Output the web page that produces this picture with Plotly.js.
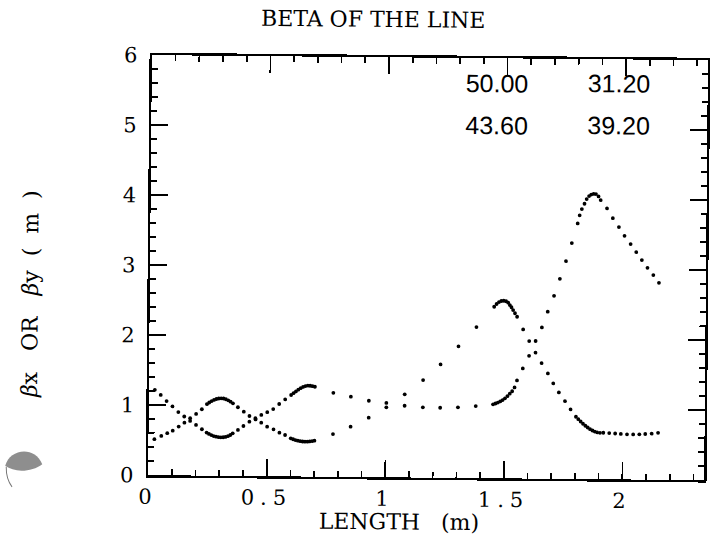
<!DOCTYPE html>
<html>
<head>
<meta charset="utf-8">
<script src="https://cdn.plot.ly/plotly-3.0.1.min.js"></script>
<style>
  html, body { margin: 0; padding: 0; background: #fff; }
  #beta { width: 712px; height: 542px; transform: rotate(0.52deg); transform-origin: 356px 271px; }
  #beta .xtick text { letter-spacing: 6px; }
</style>
</head>
<body>
<div id="beta"></div>
<script>
// Beta functions along the line, sampled at the tracking points (length in m, beta in m)
const lengthX = [
  0.025, 0.05, 0.075, 0.10, 0.125, 0.15, 0.175, 0.20, 0.225,
  0.245, 0.255, 0.265, 0.275, 0.285, 0.295, 0.305, 0.315, 0.325, 0.335, 0.345, 0.355,
  0.377, 0.40, 0.425, 0.45, 0.475, 0.50, 0.525, 0.55, 0.575,
  0.60, 0.61, 0.62, 0.63, 0.64, 0.65, 0.66, 0.67, 0.68, 0.69, 0.70,
  0.778, 0.852, 0.928, 1.002, 1.079, 1.156, 1.229, 1.304, 1.379,
  1.452, 1.462, 1.472, 1.482, 1.492, 1.502, 1.512, 1.522, 1.532, 1.542, 1.552,
  1.576, 1.602, 1.629, 1.655, 1.679, 1.705, 1.729, 1.754, 1.778,
  1.802, 1.81, 1.819, 1.83, 1.839, 1.849, 1.858, 1.868, 1.878, 1.889, 1.898,
  1.925, 1.95, 1.976, 2.0, 2.026, 2.05, 2.074, 2.098, 2.123, 2.147
];
const betaX = [
  1.22, 1.147, 1.06, 0.985, 0.905, 0.842, 0.78, 0.723, 0.662,
  0.616, 0.596, 0.58, 0.567, 0.558, 0.552, 0.55, 0.551, 0.556, 0.566, 0.584, 0.608,
  0.657, 0.714, 0.777, 0.826, 0.874, 0.915, 0.96, 1.033, 1.10,
  1.163, 1.19, 1.215, 1.24, 1.262, 1.28, 1.293, 1.299, 1.298, 1.292, 1.284,
  1.20, 1.147, 1.091, 1.062, 1.024, 1.004, 1.0, 1.009, 1.029,
  1.056, 1.068, 1.082, 1.098, 1.118, 1.143, 1.175, 1.21, 1.245, 1.30, 1.40,
  1.573, 1.754, 1.966, 2.161, 2.386, 2.614, 2.858, 3.111, 3.37,
  3.651, 3.767, 3.857, 3.933, 4.0, 4.043, 4.065, 4.075, 4.073, 4.04, 3.987,
  3.87, 3.731, 3.604, 3.48, 3.363, 3.249, 3.136, 3.026, 2.923, 2.813
];
const lengthY = [
  0.025, 0.054, 0.079, 0.102, 0.127, 0.151, 0.175, 0.20, 0.224,
  0.245, 0.255, 0.265, 0.275, 0.285, 0.295, 0.305, 0.315, 0.325, 0.335, 0.345, 0.355,
  0.376, 0.401, 0.425, 0.451, 0.475, 0.50, 0.527, 0.552, 0.576,
  0.60, 0.61, 0.62, 0.63, 0.64, 0.65, 0.66, 0.67, 0.68, 0.69, 0.70,
  0.778, 0.852, 0.928, 1.002, 1.079, 1.156, 1.229, 1.304, 1.379,
  1.453, 1.463, 1.473, 1.483, 1.493, 1.503, 1.512, 1.519, 1.526, 1.533, 1.541, 1.55,
  1.576, 1.602, 1.629, 1.655, 1.682, 1.705, 1.729, 1.755, 1.779,
  1.802, 1.812, 1.822, 1.832, 1.842, 1.852, 1.862, 1.872, 1.882, 1.892, 1.904,
  1.918, 1.943, 1.968, 1.992, 2.018, 2.044, 2.07, 2.095, 2.122, 2.149
];
const betaY = [
  0.514, 0.561, 0.601, 0.638, 0.697, 0.754, 0.818, 0.88, 0.948,
  1.022, 1.045, 1.066, 1.083, 1.096, 1.104, 1.107, 1.104, 1.094, 1.078, 1.06, 1.037,
  0.981, 0.919, 0.858, 0.81, 0.764, 0.707, 0.671, 0.623, 0.591,
  0.544, 0.531, 0.52, 0.511, 0.504, 0.5, 0.498, 0.499, 0.502, 0.507, 0.513,
  0.611, 0.718, 0.849, 1.0, 1.187, 1.394, 1.62, 1.88, 2.157,
  2.45, 2.49, 2.518, 2.533, 2.537, 2.53, 2.51, 2.476, 2.445, 2.405, 2.36, 2.31,
  2.13, 1.964, 1.80, 1.651, 1.505, 1.363, 1.235, 1.111, 0.994,
  0.889, 0.855, 0.822, 0.79, 0.762, 0.737, 0.714, 0.695, 0.68, 0.669, 0.663,
  0.664, 0.66, 0.655, 0.65, 0.645, 0.644, 0.647, 0.652, 0.658, 0.67
];
// Values printed in the upper right corner (two rows of two)
const cornerValues = [["50.00", "31.20"], ["43.60", "39.20"]];
// Axis tick labels
const xTickVals = [0, 0.5, 1, 1.5, 2];
const yTickVals = [0, 1, 2, 3, 4, 5, 6];

const serif = 'DejaVu Serif, Liberation Serif, serif';
const dotStyle = { size: 3.8, color: '#000' };

const traces = [
  { x: lengthX, y: betaX, mode: 'markers', type: 'scatter', marker: dotStyle, name: 'βx', hoverinfo: 'x+y' },
  { x: lengthY, y: betaY, mode: 'markers', type: 'scatter', marker: dotStyle, name: 'βy', hoverinfo: 'x+y' }
];

// plot area in pixels
const M = { l: 150, r: 6, t: 57, b: 65 };
const W = 712, H = 542;
const pw = W - M.l - M.r, ph = H - M.t - M.b;
const px = X => ((X - M.l) / pw).toFixed(4);
const py = Y => ((H - M.b - Y) / ph).toFixed(4);
const pt = (X, Y) => px(X) + ',' + py(Y);

const axisCommon = {
  showline: true, linewidth: 2.4, linecolor: '#000', mirror: 'ticks',
  ticks: 'inside', ticklen: 17, tickwidth: 1.7, tickcolor: '#000',
  showgrid: false, zeroline: false,
  tickfont: { family: serif, size: 21, color: '#000' }
};

const cornerPos = [[[1.457, 5.646], [1.971, 5.66]], [[1.458, 5.046], [1.972, 5.06]]];
const annotations = [];
cornerValues.forEach((row, i) => row.forEach((txt, j) => {
  annotations.push({
    x: cornerPos[i][j][0], y: cornerPos[i][j][1], xref: 'x', yref: 'y',
    text: txt, showarrow: false, xanchor: 'center', yanchor: 'middle',
    font: { family: 'Liberation Sans, Arial, sans-serif', size: 25, color: '#000' }
  });
}));
annotations.push({
  x: +px(401), y: +py(522), xref: 'paper', yref: 'paper', showarrow: false,
  text: 'LENGTH\u00a0\u00a0\u00a0(m)', xanchor: 'center', yanchor: 'middle',
  font: { family: serif, size: 22, color: '#000' }
});
annotations.push({
  x: +px(31), y: +py(297), xref: 'paper', yref: 'paper', showarrow: false,
  text: '<i>β</i>x\u00a0\u00a0\u00a0OR\u00a0\u00a0\u00a0<i>β</i>y\u00a0\u00a0(\u00a0\u00a0m\u00a0\u00a0)', textangle: -90,
  xanchor: 'center', yanchor: 'middle',
  font: { family: serif, size: 22, color: '#000' }
});

const layout = {
  width: W, height: H,
  margin: M,
  paper_bgcolor: '#fff', plot_bgcolor: '#fff',
  showlegend: false,
  title: {
    text: 'BETA OF THE LINE', xref: 'container', yref: 'container',
    x: 371 / W, y: 1 - 19 / H, xanchor: 'center', yanchor: 'middle',
    font: { family: serif, size: 22, color: '#000' }
  },
  xaxis: Object.assign({}, axisCommon, {
    range: [0, 2.345], tickmode: 'array', tickvals: xTickVals,
    ticklabelstandoff: 1,
    minor: { ticks: 'inside', ticklen: 6, tickwidth: 1.7, tickcolor: '#000', dtick: 0.1, tick0: 0 }
  }),
  yaxis: Object.assign({}, axisCommon, {
    range: [0, 6], tickmode: 'array', tickvals: yTickVals,
    ticklabelstandoff: 8,
    minor: { ticks: 'inside', ticklen: 6, tickwidth: 1.7, tickcolor: '#000', dtick: 0.2, tick0: 0 }
  }),
  annotations: annotations,
  shapes: [
    { type: 'path', xref: 'paper', yref: 'paper', layer: 'above',
      path: 'M' + pt(7, 469) + ' C' + pt(11, 452) + ' ' + pt(36, 448) + ' ' + pt(44, 467) +
            ' C' + pt(34, 475) + ' ' + pt(16, 476) + ' ' + pt(7, 469) + ' Z',
      fillcolor: '#8e8e8e', line: { width: 0 } },
    { type: 'path', xref: 'paper', yref: 'paper', layer: 'above',
      path: 'M' + pt(8, 470) + ' C' + pt(8, 478) + ' ' + pt(10, 485) + ' ' + pt(14, 490),
      line: { color: '#777', width: 1 } }
  ]
};

Plotly.newPlot('beta', traces, layout, { staticPlot: true, displayModeBar: false });
</script>
</body>
</html>
